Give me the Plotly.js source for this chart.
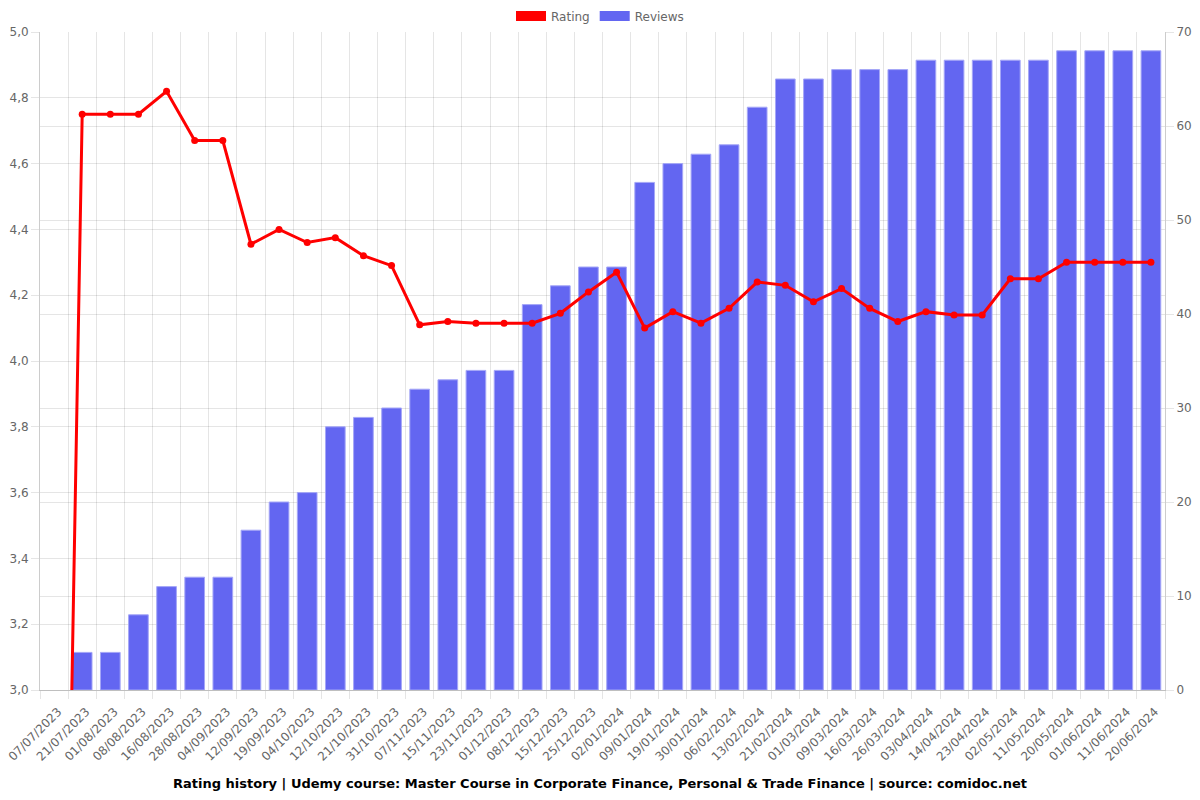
<!DOCTYPE html>
<html>
<head>
<meta charset="utf-8">
<script src="https://cdn.plot.ly/plotly-3.0.1.min.js"></script>
<style>html,body{margin:0;padding:0;background:#fff;}#chart{width:1200px;height:800px;}</style>
</head>
<body>
<div id="chart"></div>
<script>
const dates = ["07/07/2023","21/07/2023","01/08/2023","08/08/2023","16/08/2023","28/08/2023","04/09/2023","12/09/2023","19/09/2023","04/10/2023","12/10/2023","21/10/2023","31/10/2023","07/11/2023","15/11/2023","23/11/2023","01/12/2023","08/12/2023","15/12/2023","25/12/2023","02/01/2024","09/01/2024","19/01/2024","30/01/2024","06/02/2024","13/02/2024","21/02/2024","01/03/2024","09/03/2024","16/03/2024","26/03/2024","03/04/2024","14/04/2024","23/04/2024","02/05/2024","11/05/2024","20/05/2024","01/06/2024","11/06/2024","20/06/2024"];
const rating = [0,4.75,4.75,4.75,4.82,4.67,4.67,4.355,4.40,4.36,4.375,4.32,4.29,4.11,4.12,4.115,4.115,4.115,4.145,4.21,4.27,4.10,4.15,4.115,4.16,4.24,4.23,4.18,4.22,4.16,4.12,4.15,4.14,4.14,4.25,4.25,4.30,4.30,4.30,4.30];
const reviews = [0,4,4,8,11,12,12,17,20,21,28,29,30,32,33,34,34,41,43,45,45,54,56,57,58,62,65,65,66,66,66,67,67,67,67,67,68,68,68,68];
const titleText = "Rating history | Udemy course: Master Course in Corporate Finance, Personal & Trade Finance | source: comidoc.net";

const RED = "#ff0000", BLUE = "#6366f1";
const traces = [
  {type:"bar", x:dates, y:reviews, yaxis:"y", name:"Reviews", showlegend:false,
   marker:{color:BLUE, line:{color:"rgba(165,167,247,1)", width:reviews.map(v => v > 0 ? 1 : 0)}}, width:0.7, hoverinfo:"x+y"},
  {type:"scatter", mode:"lines+markers", x:dates, y:rating, yaxis:"y2", name:"Rating", showlegend:false,
   line:{color:RED, width:3}, marker:{color:RED, size:7}},
  {type:"scatter", mode:"lines", x:[dates[0]], y:[null], yaxis:"y2", name:"Rating", line:{color:RED, width:12}, showlegend:true, hoverinfo:"skip"},
  {type:"scatter", mode:"lines", x:[dates[0]], y:[null], yaxis:"y2", name:"Reviews", line:{color:BLUE, width:12}, showlegend:true, hoverinfo:"skip"}
];
const tickFont = {family:"DejaVu Sans", size:12, color:"#666"};
const grid = "rgba(0,0,0,0.1)";
const layout = {
  width:1200, height:800,
  margin:{l:40, r:35, t:32, b:110, pad:0, autoexpand:false},
  paper_bgcolor:"#fff", plot_bgcolor:"#fff",
  font:{family:"DejaVu Sans", size:12, color:"#666"},
  separators:",.",
  barmode:"overlay",
  showlegend:true,
  legend:{orientation:"h", x:0.5, xanchor:"center", xref:"container", y:0.98, yref:"container", yanchor:"middle", font:{family:"DejaVu Sans", size:12, color:"#666"}, traceorder:"normal", itemwidth:30},
  title:{text:"<b>"+titleText+"</b>", x:0.5, xanchor:"center", y:0.021, yref:"container", yanchor:"middle", font:{family:"DejaVu Sans", size:13, color:"#000"}},
  xaxis:{type:"category", range:[-0.5, dates.length-0.5], tickson:"boundaries", ticks:"outside", ticklen:8, tickcolor:grid, showgrid:true, gridcolor:grid, tickangle:-45, ticklabelstandoff:9, ticklabelshift:4, tickfont:tickFont, showline:true, linecolor:"rgba(0,0,0,0.25)", zeroline:false, automargin:false},
  yaxis:{side:"right", range:[0,70], dtick:10, tickformat:"d", showgrid:true, gridcolor:grid, ticks:"outside", ticklen:8, tickcolor:grid, tickfont:tickFont, showline:true, linecolor:"rgba(0,0,0,0.2)", zeroline:false, automargin:false},
  yaxis2:{side:"left", overlaying:"y", range:[3,5], dtick:0.2, tickformat:".1f", showgrid:true, gridcolor:grid, ticks:"outside", ticklen:8, tickcolor:grid, tickfont:tickFont, showline:true, linecolor:"rgba(0,0,0,0.2)", zeroline:false, automargin:false}
};
Plotly.newPlot("chart", traces, layout, {displayModeBar:false, staticPlot:true});
</script>
</body>
</html>
